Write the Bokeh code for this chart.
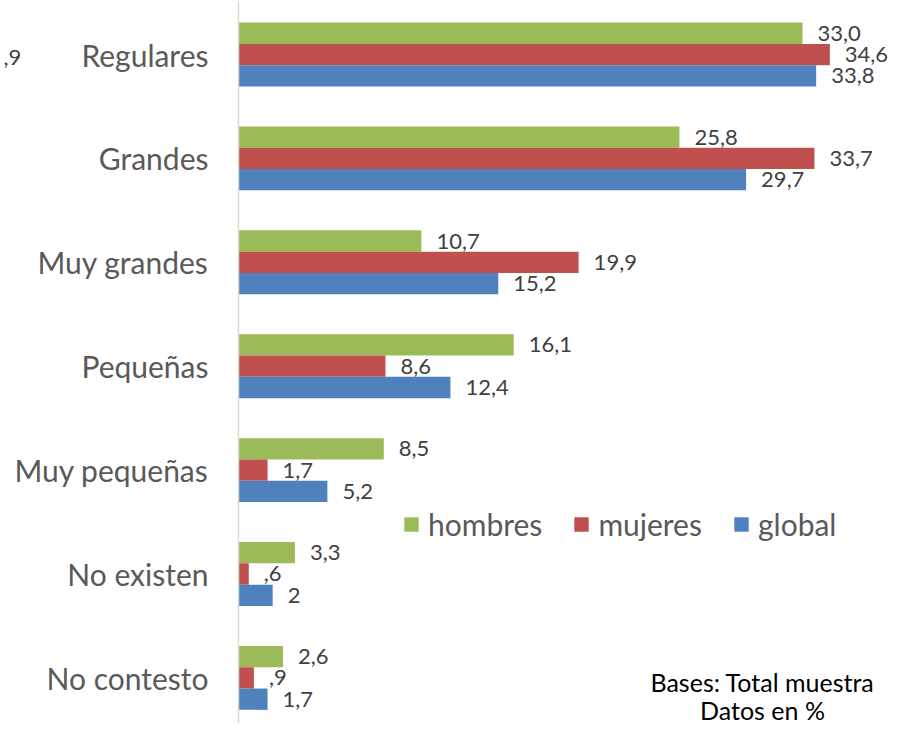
from bokeh.plotting import figure
from bokeh.models import Range1d, FixedTicker, Legend, LegendItem, Label, ColumnDataSource
from bokeh.core.properties import value
from bokeh.embed import file_html
from bokeh.resources import INLINE

categories = ["Regulares", "Grandes", "Muy grandes", "Pequeñas", "Muy pequeñas", "No existen", "No contesto"]
hombres = [33.0, 25.8, 10.7, 16.1, 8.5, 3.3, 2.6]
mujeres = [34.6, 33.7, 19.9, 8.6, 1.7, 0.6, 0.9]
global_ = [33.8, 29.7, 15.2, 12.4, 5.2, 2.0, 1.7]
hombres_labels = ["33,0", "25,8", "10,7", "16,1", "8,5", "3,3", "2,6"]
mujeres_labels = ["34,6", "33,7", "19,9", "8,6", "1,7", ",6", ",9"]
global_labels = ["33,8", "29,7", "15,2", "12,4", "5,2", "2", "1,7"]
series_names = ["hombres", "mujeres", "global"]
stray_label = ",9"
note_lines = ["Bases: Total muestra", "Datos en %"]

colors = ["#9BBB59", "#C0504D", "#4F81BD"]
FONT = "Lato"
n = len(categories)
ys = [n - 1 - i for i in range(n)]
bar_h = 0.205
offsets = [bar_h, 0.0, -bar_h]

p = figure(width=889, height=723, output_backend="svg", toolbar_location=None,
           x_range=Range1d(-13.926, 38.09), y_range=Range1d(-0.439, 6.52),
           min_border_left=0, min_border_right=0, min_border_top=0, min_border_bottom=0)
p.outline_line_color = None
p.xgrid.visible = False
p.ygrid.visible = False
p.xaxis.visible = False
p.background_fill_color = "white"
p.border_fill_color = "white"

yax = p.yaxis[0]
yax.fixed_location = 0
yax.ticker = FixedTicker(ticks=ys)
yax.major_label_overrides = {y: c for y, c in zip(ys, categories)}
yax.major_tick_line_color = None
yax.minor_tick_line_color = None
yax.major_tick_out = 0
yax.major_tick_in = 0
yax.axis_line_color = "#D9D9D9"
yax.axis_line_width = 1.5
yax.major_label_standoff = 30
yax.major_label_text_font = FONT
yax.major_label_text_font_size = "30px"
yax.major_label_text_color = "#595959"

items = []
for vals, labs, off, col, name in zip([hombres, mujeres, global_],
                                      [hombres_labels, mujeres_labels, global_labels],
                                      offsets, colors, series_names):
    src = ColumnDataSource(dict(y=[y + off for y in ys], v=vals, t=labs))
    r = p.hbar(y="y", right="v", left=0, height=bar_h, source=src,
               fill_color=col, line_color=None)
    p.text(x="v", y="y", text="t", source=src, x_offset=15,
           text_baseline="middle", text_align="left",
           text_font=value(FONT), text_font_size="22px", text_color="#404040")
    items.append(LegendItem(label=name, renderers=[r]))

legend = Legend(items=items, orientation="horizontal", location=(402, 181),
                glyph_width=18, glyph_height=18, label_standoff=8, spacing=30,
                padding=0, margin=0, border_line_color=None, background_fill_alpha=0,
                label_text_font=FONT, label_text_font_size="30px",
                label_text_color="#595959")
p.add_layout(legend, "center")

p.add_layout(Label(x=3, y=ys[0] - 0.03, x_units="screen", text=stray_label,
                   text_baseline="middle", text_font=FONT, text_font_size="22px",
                   text_color="#404040"))
p.add_layout(Label(x=762, y=42, x_units="screen", y_units="screen", text=note_lines[0],
                   text_align="center", text_baseline="middle", text_font=FONT,
                   text_font_size="25px", text_color="#000000"))
p.add_layout(Label(x=762, y=14, x_units="screen", y_units="screen", text=note_lines[1],
                   text_align="center", text_baseline="middle", text_font=FONT,
                   text_font_size="25px", text_color="#000000"))

open("out.html", "w").write(file_html(p, INLINE))
